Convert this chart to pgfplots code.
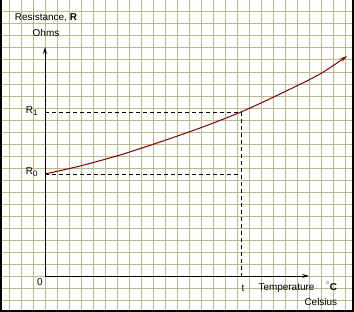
\documentclass[border=0pt]{standalone}
\usepackage{pgfplots}
\pgfplotsset{compat=1.18}
\usepackage{fontspec}
\setmainfont{Liberation Sans}
\usetikzlibrary{arrows.meta}
\definecolor{gridc}{RGB}{185,185,140}
\definecolor{curve}{RGB}{128,0,0}
\begin{document}
\begin{tikzpicture}
\begin{axis}[
  name=ax,
  scale only axis, width=354bp, height=312bp,
  xmin=0, xmax=354, ymin=0, ymax=312, y dir=reverse,
  axis line style={draw=none},
  xtick={9,21,...,350}, ytick={12,24,...,300},
  xticklabels={}, yticklabels={},
  major tick length=0pt,
  grid=major, major grid style={gridc, line width=1bp},
  clip=false,
  every node/.style={font=\fontsize{10.8}{12}\selectfont},
]
% frame
\addplot[black, line width=2bp] coordinates {(0.5,0) (0.5,311) (353,311) (353,0)};
% axes
\addplot[black, line width=1bp, -{Stealth[length=7bp,width=4bp]}] coordinates {(45,276) (45,47)};
\addplot[black, line width=1bp, -{Stealth[length=7bp,width=4bp]}] coordinates {(45,276) (309,276)};
% dashed
\addplot[black, line width=1bp, dash pattern=on 4bp off 3bp] coordinates {(45,112) (241,112) (241,276)};
\addplot[black, line width=1bp, dash pattern=on 4bp off 3bp] coordinates {(45,174) (241,174)};
% curve
\addplot[curve, line width=1bp, smooth, -{Stealth[length=7bp,width=4bp]}] coordinates {
(45,174) (80,166) (120,155) (160,142) (200,128) (241,112) (280,94) (320,74) (347,56)};
% labels
\node at (axis cs:46,18) {Resistance, \textbf{R}};
\node at (axis cs:46,33) {Ohms};
\node[anchor=east] at (axis cs:41,111) {R\raisebox{-0.4ex}{\fontsize{8}{9}\selectfont 1}};
\node[anchor=east] at (axis cs:41,172) {R\raisebox{-0.4ex}{\fontsize{8}{9}\selectfont 0}};
\node at (axis cs:40,282) {0};
\node at (axis cs:243,288) {t};
\node[anchor=west] at (axis cs:255,288) {Temperature};
\node[anchor=west] at (axis cs:322,286) {\raisebox{0.6ex}{\fontsize{8.5}{9}\selectfont$^\circ$}\textbf{C}};
\node[anchor=west] at (axis cs:301,302) {Celsius};
\end{axis}
\pgfresetboundingbox
\useasboundingbox (ax.south west) rectangle (ax.north east);
\end{tikzpicture}
\end{document}
